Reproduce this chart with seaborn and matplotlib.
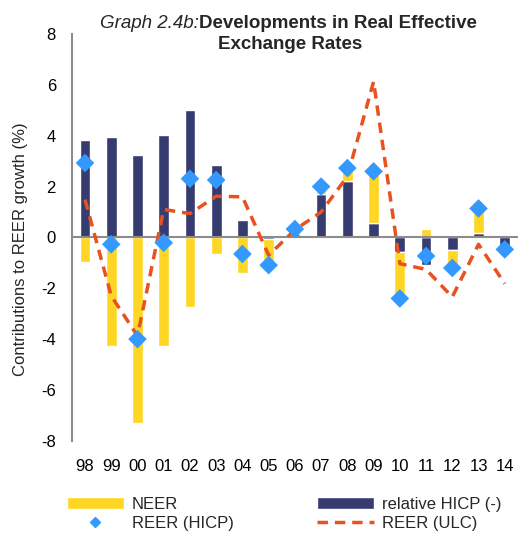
import numpy as np
import pandas as pd
import matplotlib
matplotlib.use("Agg")
import matplotlib.pyplot as plt
import seaborn as sns
from matplotlib.lines import Line2D
from matplotlib.patches import Patch

# Data
years = ['98', '99', '00', '01', '02', '03', '04', '05', '06',
         '07', '08', '09', '10', '11', '12', '13', '14']
rel_hicp = [3.84, 3.96, 3.25, 4.04, 5.02, 2.86, 0.69, -0.05, 0.15,
            1.71, 2.24, 0.56, -0.56, -1.09, -0.51, 0.16, -0.34]
neer = [-0.97, -4.29, -7.31, -4.27, -2.75, -0.64, -1.40, -1.02, 0.20,
        0.17, 0.36, 1.95, -1.74, 0.34, -0.61, 0.87, -0.10]
reer_hicp = [2.93, -0.27, -4.00, -0.21, 2.31, 2.26, -0.65, -1.09, 0.33,
             2.00, 2.73, 2.60, -2.40, -0.73, -1.20, 1.14, -0.47]
reer_ulc = [1.49, -2.30, -3.87, 1.10, 0.94, 1.62, 1.60, -0.70, 0.30,
            1.00, 2.40, 6.13, -1.03, -1.26, -2.34, -0.27, -1.82]

YELLOW = '#FFD623'
NAVY = '#363B70'
BLUE = '#3399FF'
ORANGE = '#E8521E'

sns.set_style('white')
plt.rcParams['font.family'] = ['Liberation Sans', 'DejaVu Sans']

df = pd.DataFrame({'year': years, 'hicp': rel_hicp, 'neer': neer,
                   'reer_hicp': reer_hicp, 'reer_ulc': reer_ulc})
df['pos'] = np.arange(len(df))
# excel-style stacking: neer sits on top of hicp when signs agree
df['neer_base'] = np.where(np.sign(df['neer']) == np.sign(df['hicp']), df['hicp'], 0.0)

fig = plt.figure(figsize=(5.21, 5.33), dpi=100)
ax = fig.add_axes([0.138, 0.173, 0.856, 0.763])

bw = 0.41
ax.bar(df['pos'], df['hicp'], width=bw, color=NAVY, zorder=2)
ax.bar(df['pos'], df['neer'], width=bw, bottom=df['neer_base'], color=YELLOW, zorder=2)
ax.axhline(0, color='#8C8C8C', lw=1.5, zorder=3)

sns.lineplot(data=df, x='pos', y='reer_ulc', ax=ax, color=ORANGE, lw=2.5,
             linestyle=(0, (3, 2)), zorder=4)
sns.scatterplot(data=df, x='pos', y='reer_hicp', ax=ax, marker='D', s=90,
                color=BLUE, edgecolor='none', zorder=5)

ax.set_xlim(-0.5, 16.5)
ax.set_ylim(-8, 8)
ax.set_yticks(range(-8, 9, 2))
ax.set_yticklabels([str(v) for v in range(-8, 9, 2)])
ax.set_xticks(df['pos'])
ax.set_xticklabels(years)
ax.tick_params(axis='both', length=0, labelsize=12, colors='black')
ax.tick_params(axis='y', pad=11.5)
ax.tick_params(axis='x', pad=13)
ax.set_xlabel('')
ax.set_ylabel('Contributions to REER growth (%)', fontsize=12)
ax.yaxis.set_label_coords(-0.099, 0.47)

for side in ['top', 'right', 'bottom']:
    ax.spines[side].set_visible(False)
ax.spines['left'].set_color('#8C8C8C')
ax.spines['left'].set_linewidth(1.5)

# title: italic prefix + bold text
fig.text(0.382, 0.955, 'Graph 2.4b:', style='italic', fontsize=13.5,
         ha='right', va='center')
fig.text(0.382, 0.955, 'Developments in Real Effective', fontweight='bold',
         fontsize=13.5, ha='left', va='center')
fig.text(0.557, 0.916, 'Exchange Rates', fontweight='bold', fontsize=13.5,
         ha='center', va='center')

handles = [
    Patch(facecolor=YELLOW, label='NEER'),
    Line2D([], [], marker='D', color=BLUE, ls='none', markersize=5, label='REER (HICP)'),
    Patch(facecolor=NAVY, label='relative HICP (-)'),
    Line2D([], [], color=ORANGE, lw=2.5, ls=(0, (3, 2)), label='REER (ULC)'),
]
fig.legend(handles=handles, ncol=2, loc='lower left', bbox_to_anchor=(0.1, -0.025),
           frameon=False, fontsize=12, handlelength=3.4, handleheight=0.75,
           columnspacing=5.0, labelspacing=0.25, handletextpad=0.5)

fig.savefig('out.png', dpi=100)
